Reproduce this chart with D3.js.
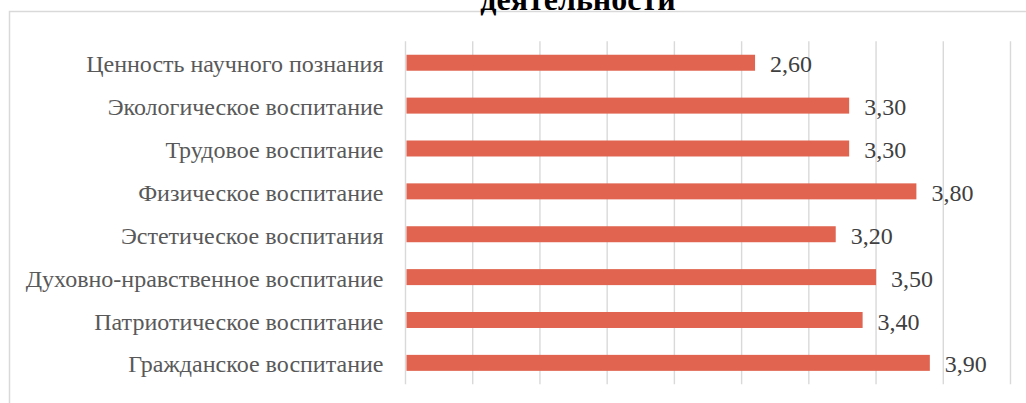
<!DOCTYPE html>
<html>
<head>
<meta charset="utf-8">
<script src="https://cdn.jsdelivr.net/npm/d3@7"></script>
<style>
  body { margin: 0; background: #fff; }
  svg { display: block; }
</style>
</head>
<body>
<svg id="chart"></svg>
<script>
var categories = [
  "Ценность научного познания",
  "Экологическое воспитание",
  "Трудовое воспитание",
  "Физическое воспитание",
  "Эстетическое воспитания",
  "Духовно-нравственное воспитание",
  "Патриотическое воспитание",
  "Гражданское воспитание"
];
var values = [2.6, 3.3, 3.3, 3.8, 3.2, 3.5, 3.4, 3.9];
var gridTicks = [0, 0.5, 1, 1.5, 2, 2.5, 3, 3.5, 4, 4.5];
var titleText = "деятельности";

var width = 1026,
    height = 403,
    plotLeft = 405.5,
    plotRight = 1010.5,
    plotTop = 41.3,
    plotBottom = 384.3;

var svg = d3.select("#chart")
    .attr("width", width)
    .attr("height", height);

var x = d3.scaleLinear()
    .domain([0, 4.5])
    .range([plotLeft, plotRight]);

var y = d3.scaleBand()
    .domain(categories)
    .range([plotTop, plotBottom])
    .paddingInner(0.627)
    .paddingOuter(0.3135);

// chart frame (cropped on right and bottom)
svg.append("rect")
    .attr("x", 9.5)
    .attr("y", 11.5)
    .attr("width", 1100)
    .attr("height", 500)
    .attr("fill", "none")
    .attr("stroke", "#d9d9d9")
    .attr("stroke-width", 1.5);

// title, only the last line is visible
svg.append("text")
    .attr("x", 578)
    .attr("y", 9.5)
    .attr("text-anchor", "middle")
    .attr("font-family", "Liberation Serif, Times New Roman, serif")
    .attr("font-weight", "bold")
    .attr("font-size", 32)
    .attr("fill", "#000")
    .text(titleText);

// vertical gridlines
svg.append("g")
    .selectAll("line")
    .data(gridTicks)
    .enter()
    .append("line")
    .attr("x1", function(d){ return x(d); })
    .attr("x2", function(d){ return x(d); })
    .attr("y1", plotTop)
    .attr("y2", plotBottom)
    .attr("stroke", "#d9d9d9")
    .attr("stroke-width", 1.4);

// bars
svg.append("g")
    .selectAll("rect")
    .data(values)
    .enter()
    .append("rect")
    .attr("x", x(0) + 1)
    .attr("y", function(d, i){ return y(categories[i]); })
    .attr("width", function(d){ return x(d) - x(0) - 1; })
    .attr("height", y.bandwidth())
    .attr("fill", "#e06450");

// category labels
var yAxis = d3.axisLeft(y).tickSize(0).tickPadding(22);
var gy = svg.append("g")
    .attr("transform", "translate(" + plotLeft + ",0)")
    .call(yAxis);
gy.select(".domain").remove();
gy.selectAll("text")
    .attr("font-family", "Liberation Serif, Times New Roman, serif")
    .attr("font-size", 24)
    .attr("fill", "#595959")
    .attr("dy", 9.6);

// value labels
svg.append("g")
    .selectAll("text")
    .data(values)
    .enter()
    .append("text")
    .attr("x", function(d){ return x(d) + 15; })
    .attr("y", function(d, i){ return y(categories[i]) + y.bandwidth() / 2 + 9.6; })
    .attr("font-family", "Liberation Serif, Times New Roman, serif")
    .attr("font-size", 24)
    .attr("fill", "#404040")
    .text(function(d){ return d.toFixed(2).replace(".", ","); });
</script>
</body>
</html>
